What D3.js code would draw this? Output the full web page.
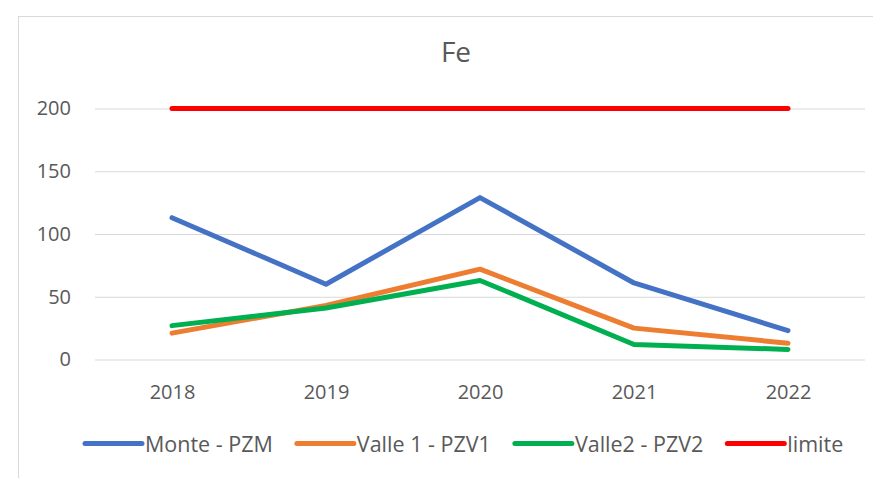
<!DOCTYPE html>
<html>
<head>
<meta charset="utf-8">
<script src="https://cdn.jsdelivr.net/npm/d3@7"></script>
<style>
  body { margin: 0; background: #fff; }
  text { font-family: "Open Sans", "Noto Sans", sans-serif; fill: #595959; }
</style>
</head>
<body>
<svg id="chart" width="873" height="478"></svg>
<script>
const years = ['2018', '2019', '2020', '2021', '2022'];
const yTicks = [0, 50, 100, 150, 200];
const monte = [113, 60, 129, 61, 23];
const valle1 = [21, 43, 72, 25, 13];
const valle2 = [27, 41, 63, 12, 8];
const limite = [200, 200, 200, 200, 200];

const seriesNames = ['Monte - PZM', 'Valle 1 - PZV1', 'Valle2 - PZV2', 'limite'];
const seriesColors = ['#4472C4', '#ED7D31', '#00B050', '#FF0000'];
const seriesValues = [monte, valle1, valle2, limite];

var svg = d3.select('#chart');

// outer frame of the chart area
svg.append('rect')
    .attr('x', 18.5).attr('y', 16.5)
    .attr('width', 900).attr('height', 600)
    .attr('fill', 'none')
    .attr('stroke', '#d9d9d9');

var x = d3.scalePoint().domain(years).range([95, 865]).padding(0.5);
var y = d3.scaleLinear().domain([0, 200]).range([359.5, 108.5]);

// title
svg.append('text')
    .attr('x', 456).attr('y', 62)
    .attr('text-anchor', 'middle')
    .style('font-size', '28px')
    .text('Fe');

// grid + y labels
var yAxis = svg.append('g')
    .attr('transform', 'translate(95,0)')
    .call(d3.axisLeft(y).tickValues(yTicks).tickSize(-770).tickPadding(24));
yAxis.select('.domain').remove();
yAxis.selectAll('line').attr('stroke', '#d9d9d9');
yAxis.selectAll('text')
    .style('font-size', '20px')
    .attr('fill', '#595959')
    .style('font-family', '"Open Sans", sans-serif');

// x labels
var xAxis = svg.append('g')
    .attr('transform', 'translate(0,' + y(0) + ')')
    .call(d3.axisBottom(x).tickSize(0).tickPadding(25));
xAxis.select('.domain').remove();
xAxis.selectAll('text')
    .style('font-size', '20px')
    .attr('fill', '#595959')
    .style('font-family', '"Open Sans", sans-serif');

var line = d3.line()
    .x(function(d, i){ return x(years[i]) })
    .y(function(d){ return y(d) });

seriesValues.forEach(function(vals, i){
    svg.append('path')
        .datum(vals)
        .attr('d', line)
        .attr('fill', 'none')
        .attr('stroke', seriesColors[i])
        .attr('stroke-width', 5)
        .attr('stroke-linecap', 'round')
        .attr('stroke-linejoin', 'round');
});

// legend, laid out from measured text widths
var legend = svg.append('g');
var lx = 85;
var ly = 443.5;
seriesNames.forEach(function(name, i){
    legend.append('line')
        .attr('x1', lx).attr('x2', lx + 57)
        .attr('y1', ly).attr('y2', ly)
        .attr('stroke', seriesColors[i])
        .attr('stroke-width', 5)
        .attr('stroke-linecap', 'round');
    var t = legend.append('text')
        .attr('x', lx + 60).attr('y', ly + 8)
        .style('font-size', '21.5px')
        .text(name);
    lx = lx + 60 + t.node().getComputedTextLength() + 24;
});
</script>
</body>
</html>
